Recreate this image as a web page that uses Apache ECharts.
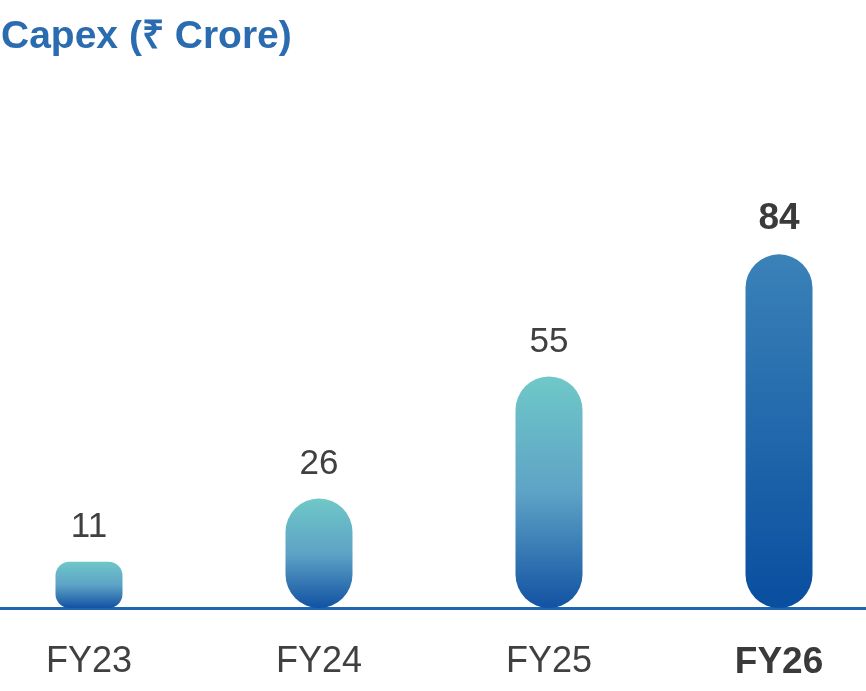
<!DOCTYPE html>
<html>
<head>
<meta charset="utf-8">
<script src="https://cdn.jsdelivr.net/npm/echarts@6/dist/echarts.min.js"></script>
<style>
  html, body { margin: 0; padding: 0; background: #fff; }
  #chart { width: 866px; height: 691px; }
</style>
</head>
<body>
<div id="chart"></div>
<script>
const years = ["FY23", "FY24", "FY25", "FY26"];
const capex = [11, 26, 55, 84];
const highlightYear = "FY26";

const FONT = "'Liberation Sans', Arial, Helvetica, sans-serif";

const chart = echarts.init(document.getElementById("chart"), null, { renderer: "canvas" });

function barStyle(year, value) {
  const isHighlight = year === highlightYear;
  const stops = isHighlight
    ? [
        { offset: 0, color: "#3a82b8" },
        { offset: 1, color: "#094e9f" }
      ]
    : [
        { offset: 0, color: "#6fc8c8" },
        { offset: 0.5, color: "#5ea3c6" },
        { offset: 1, color: "#1252a3" }
      ];
  return {
    color: new echarts.graphic.LinearGradient(0, 0, 0, 1, stops),
    borderRadius: value < 15 ? 14 : 34
  };
}

chart.setOption({
  backgroundColor: "#ffffff",
  animation: false,
  title: {
    text: "Capex (₹ Crore)",
    left: 1,
    top: 18,
    padding: 0,
    textStyle: {
      color: "#2b6cb0",
      fontSize: 39,
      fontWeight: "bold",
      fontFamily: FONT
    }
  },
  grid: [
    // bars: category points sit on the ticks, 230px apart
    { left: 89, right: 87, top: 187, bottom: 83, outerBoundsMode: "none" },
    // full-width baseline
    { left: 0, right: 0, top: 187, bottom: 83, outerBoundsMode: "none" }
  ],
  xAxis: [
    {
      type: "category",
      gridIndex: 0,
      data: years,
      boundaryGap: false,
      axisLine: { show: false },
      axisTick: { show: false },
      axisLabel: {
        margin: 36,
        fontSize: 36,
        fontFamily: FONT,
        color: "#404040",
        formatter: (v) => (v === highlightYear ? "{b|" + v + "}" : v),
        rich: {
          b: { fontSize: 37, fontWeight: "bold", fontFamily: FONT, color: "#3a3a3a" }
        }
      }
    },
    {
      type: "value",
      gridIndex: 1,
      min: 0,
      max: 1,
      axisLine: { show: true, lineStyle: { color: "#1f67b0", width: 3 } },
      axisTick: { show: false },
      axisLabel: { show: false },
      splitLine: { show: false }
    }
  ],
  yAxis: [
    { type: "value", gridIndex: 0, min: 0, max: 100, show: false },
    { type: "value", gridIndex: 1, min: 0, max: 1, show: false }
  ],
  series: [
    {
      type: "bar",
      xAxisIndex: 0,
      yAxisIndex: 0,
      barWidth: 67,
      data: years.map((y, i) => ({
        value: capex[i],
        itemStyle: barStyle(y, capex[i]),
        label: y === highlightYear
          ? { fontWeight: "bold", fontSize: 37, color: "#3a3a3a" }
          : undefined
      })),
      label: {
        show: true,
        position: "top",
        distance: 17,
        fontSize: 35,
        fontFamily: FONT,
        color: "#404040"
      }
    }
  ]
});
</script>
</body>
</html>
